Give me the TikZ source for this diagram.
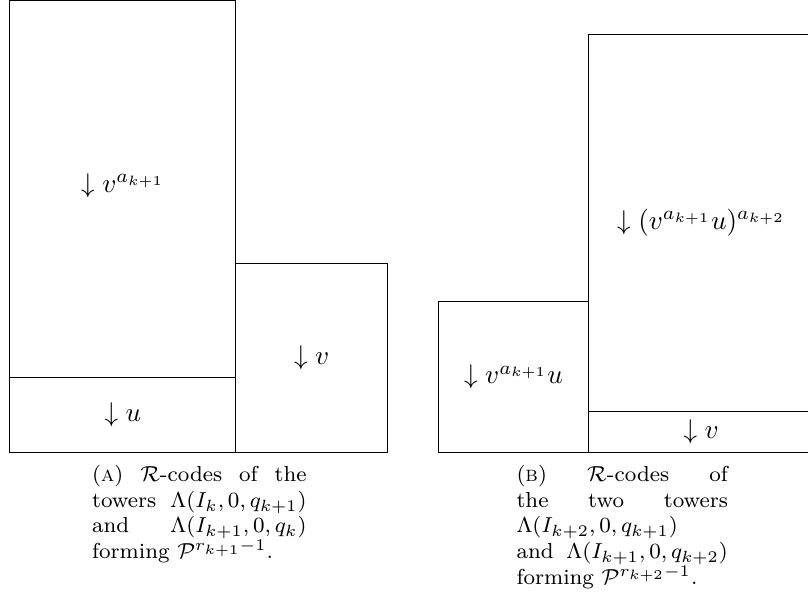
\documentclass[tikz,border=0pt]{standalone}
\usepackage{amsmath, amssymb}
\usepackage{tikz}
\usetikzlibrary{calc}

\begin{document}
\begin{tikzpicture}[
    block/.style={draw, thin},
    code/.style={inner sep=0pt, scale=1.25},
    caption/.style={
        text width=2.78cm,
        align=justify,
        font=\footnotesize,
        scale=1.25,
        inner sep=0pt,
        anchor=base,
        execute at begin node={\hyphenpenalty=10000\tolerance=9999}
    }
]
\useasboundingbox (0,0) rectangle (13.09,9.70);

% ==================== LEFT SUBFIGURE ====================
\begin{scope}
    % Towers
    \draw[block] (0.15,2.37) rectangle (3.82,3.59);
    \draw[block] (0.15,3.59) rectangle (3.82,9.70);
    \draw[block] (3.82,2.37) rectangle (6.28,5.43);

    % Codes
    \node[code] (codeU) at (1.99,2.98) {$\downarrow u$};
    \node[code] (codeVa) at (1.99,6.69) {$\downarrow v^{a_{k+1}}$};
    \node[code] (codeV) at (5.05,3.90) {$\downarrow v$};

    % Caption
    \node[caption] (capA) at (3.23,1.90) {(\textsc{a}) $\mathcal{R}$-codes of the towers $\Lambda(I_k,0,q_{k+1})$ and $\Lambda(I_{k+1},0,q_k)$ forming $\mathcal{P}^{r_{k+1}-1}$.};
\end{scope}

% ==================== RIGHT SUBFIGURE ====================
\begin{scope}
    % Towers
    \draw[block] (7.10,2.37) rectangle (9.54,4.81);
    \draw[block] (9.54,2.37) rectangle (13.17,3.03);
    \draw[block] (9.54,3.03) rectangle (13.17,9.15);

    % Codes
    \node[code] (codeVaU) at (8.32,3.59) {$\downarrow v^{a_{k+1}}u$};
    \node[code] (codeW) at (11.36,6.09) {$\downarrow (v^{a_{k+1}}u)^{a_{k+2}}$};
    \node[code] (codeV2) at (11.36,2.70) {$\downarrow v$};

    % Caption
    \node[caption, text width=2.74cm] (capB) at (10.08,1.90) {(\textsc{b}) $\mathcal{R}$-codes of the two towers $\Lambda(I_{k+2},0,q_{k+1})$ and $\Lambda(I_{k+1},0,q_{k+2})$ forming $\mathcal{P}^{r_{k+2}-1}$.};
\end{scope}

\end{tikzpicture}
\end{document}
